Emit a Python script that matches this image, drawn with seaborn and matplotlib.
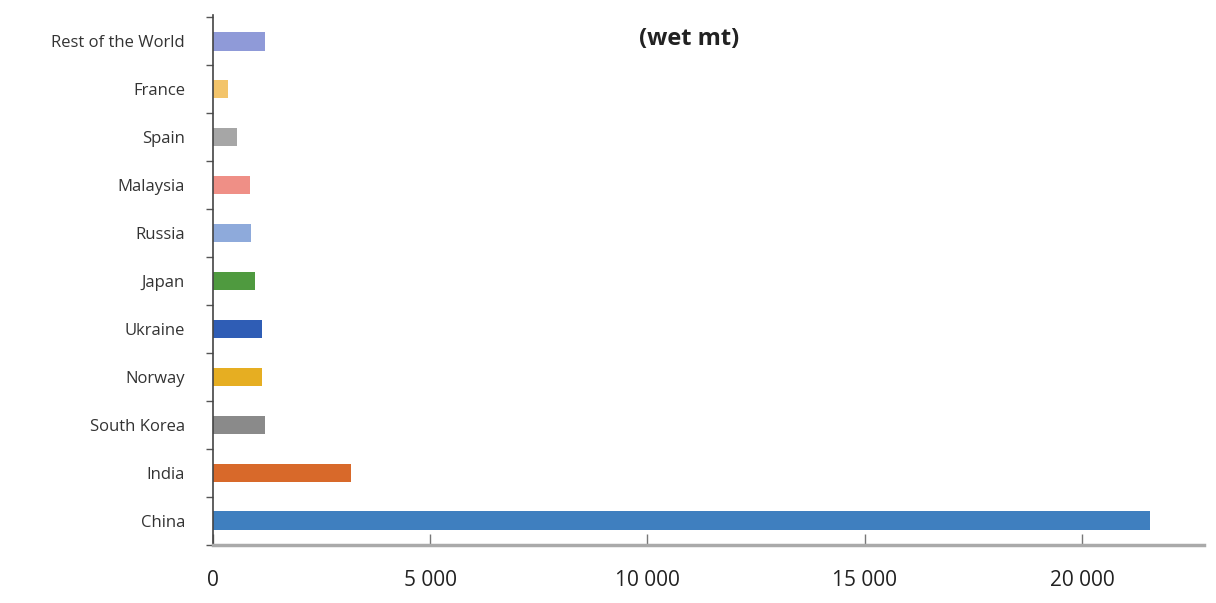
import numpy as np
import pandas as pd
import matplotlib
matplotlib.use("Agg")
import matplotlib.pyplot as plt
import seaborn as sns
from matplotlib.ticker import FuncFormatter, FixedLocator

# countries top to bottom, as in the chart
countries = ["Rest of the World", "France", "Spain", "Malaysia", "Russia", "Japan",
             "Ukraine", "Norway", "South Korea", "India", "China"]
imports = [1200, 350, 550, 850, 880, 970, 1130, 1130, 1200, 3180, 21550]
bar_colors = ["#8f9ad8", "#f3c46a", "#a6a6a6", "#ef8f86", "#8eaadb", "#4f9a3f",
              "#2f5db5", "#e6ae22", "#8a8a8a", "#d8692a", "#3f7fbf"]
title = "(wet mt)"
xticks = [0, 5000, 10000, 15000, 20000]

df = pd.DataFrame({"country": countries, "imports": imports})

sns.set_style("white")
plt.rcParams["font.family"] = ["Open Sans", "DejaVu Sans"]

fig = plt.figure(figsize=(12.16, 6.03), dpi=100)
ax = fig.add_axes([0.175, 0.097, 0.815, 0.878])

sns.barplot(data=df, y="country", x="imports", hue="country", order=countries,
            hue_order=countries, palette=bar_colors, orient="h", width=0.38,
            saturation=1, legend=False, ax=ax, edgecolor="none")

ax.set_xlim(0, 22800)
ax.set_ylim(len(countries) - 0.5, -0.55)
ax.set_xlabel("")
ax.set_ylabel("")

ax.xaxis.set_major_locator(FixedLocator(xticks))
ax.xaxis.set_major_formatter(FuncFormatter(lambda v, p: f"{int(v):,}".replace(",", " ")))
ax.tick_params(axis="x", bottom=True, labelsize=15, direction="in", length=8,
               width=1, color="#777777", pad=18, labelcolor="#222222")
ax.tick_params(axis="y", which="major", left=True, length=0, labelsize=12, pad=20,
               labelcolor="#333333")
ax.set_yticks(np.arange(-0.5, len(countries), 1), minor=True)
ax.tick_params(axis="y", which="minor", left=True, length=5, width=1,
               direction="out", color="#555555")

for s in ["top", "right"]:
    ax.spines[s].set_visible(False)
ax.spines["left"].set_color("#444444")
ax.spines["left"].set_linewidth(1.2)
ax.spines["bottom"].set_color("#aaaaaa")
ax.spines["bottom"].set_linewidth(2.5)

fig.text(0.567, 0.935, title, ha="center", va="center", fontsize=17,
         fontweight="bold", color="#222222")

fig.savefig("out.png", dpi=100)
